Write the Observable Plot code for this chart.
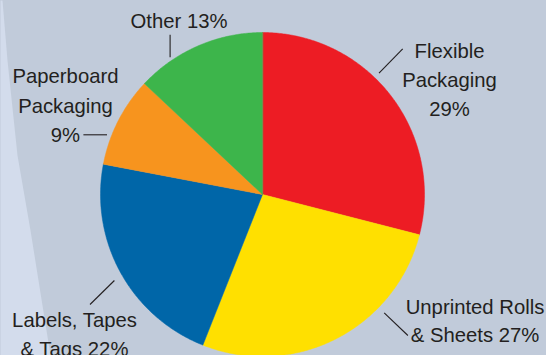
<!DOCTYPE html>
<html>
<head>
<meta charset="utf-8">
<script src="https://cdn.jsdelivr.net/npm/d3@7"></script>
<script src="https://cdn.jsdelivr.net/npm/@observablehq/plot@0.6"></script>
<style>
  html, body { margin: 0; padding: 0; background: #c1cbda; overflow: hidden; }
  #chart svg { display: block; }
</style>
</head>
<body>
<div id="chart"></div>
<script>
// ---- data ----
const categories = ["Flexible Packaging", "Unprinted Rolls & Sheets", "Labels, Tapes & Tags", "Paperboard Packaging", "Other"];
const values = [29, 27, 22, 9, 13];
const labelNames = ["Flexible\nPackaging", "Unprinted Rolls\n& Sheets", "Labels, Tapes\n& Tags", "Paperboard\nPackaging", "Other"];
const labelJoin = ["\n", " ", " ", "\n", " "];
const colors = ["#ed1c24", "#ffe000", "#0066a8", "#f7941e", "#3db54b"];

// ---- layout (pixel space) ----
const W = 546, H = 355;
const cx = 262, cy = 194, R = 162;
const fs = 20.3;
// label anchor: center x, first baseline y, line height
const labelLayout = [
  {x: 449, base: 57.3, lh: 29},
  {x: 474.5, base: 313, lh: 28.7},
  {x: 74, base: 326.7, lh: 29},
  {x: 65, base: 82.7, lh: 29.5},
  {x: 178.5, base: 27.7, lh: 29}
];
const leaderLayout = [
  {x1: 402.2, y1: 48.3, x2: 378.5, y2: 72.7},
  {x1: 383.7, y1: 312.3, x2: 407.4, y2: 335},
  {x1: 113.9, y1: 280, x2: 89.5, y2: 304},
  {x1: 82.9, y1: 134.3, x2: 106.5, y2: 134.3},
  {x1: 169.6, y1: 34.3, x2: 169.6, y2: 56.7}
];
const bgEdge = [[0,0],[2,0],[7,60],[17,155],[30,230],[50,355],[0,355]];

// ---- build slices ----
const total = d3.sum(values);
const slicePts = [];
let acc = 0;
categories.forEach((c, i) => {
  const a0 = acc / total * 2 * Math.PI;
  acc += values[i];
  const a1 = acc / total * 2 * Math.PI;
  slicePts.push({key: c, x: cx, y: cy});
  const n = Math.max(2, Math.ceil((a1 - a0) / (Math.PI / 360)));
  for (let k = 0; k <= n; k++) {
    const a = a0 + (a1 - a0) * k / n;
    slicePts.push({key: c, x: cx + R * Math.sin(a), y: cy - R * Math.cos(a)});
  }
});

// one text datum per line, positioned by baseline
const lines = [];
categories.forEach((c, i) => {
  const full = labelNames[i] + labelJoin[i] + values[i] + "%";
  const L = labelLayout[i];
  full.split("\n").forEach((t, j) => {
    lines.push({text: t, x: L.x, y: L.base + j * L.lh - 0.71 * fs});
  });
});
const leaders = leaderLayout.map((l, i) => ({key: categories[i], ...l}));
const bg = bgEdge.map(([x, y]) => ({x, y, key: "bg"}));

const plot = Plot.plot({
  width: W, height: H,
  margin: 0,
  style: {background: "#c1cbda", fontFamily: "'Liberation Sans', Arial, sans-serif"},
  x: {type: "linear", domain: [0, W], range: [0, W], axis: null},
  y: {type: "linear", domain: [0, H], range: [0, H], axis: null},
  color: {domain: categories, range: colors},
  marks: [
    Plot.line(bg, {x: "x", y: "y", z: "key", fill: "#d3dcec", stroke: null, curve: "linear-closed"}),
    Plot.line(slicePts, {x: "x", y: "y", z: "key", fill: "key", stroke: "key", strokeWidth: 0.5, curve: "linear-closed"}),
    Plot.link(leaders, {x1: "x1", y1: "y1", x2: "x2", y2: "y2", stroke: "#231f20", strokeWidth: 1.1}),
    Plot.text(lines, {x: "x", y: "y", text: "text", lineAnchor: "top", fontSize: fs, fill: "#231f20", textAnchor: "middle"})
  ]
});
document.getElementById("chart").appendChild(plot);
</script>
</body>
</html>
